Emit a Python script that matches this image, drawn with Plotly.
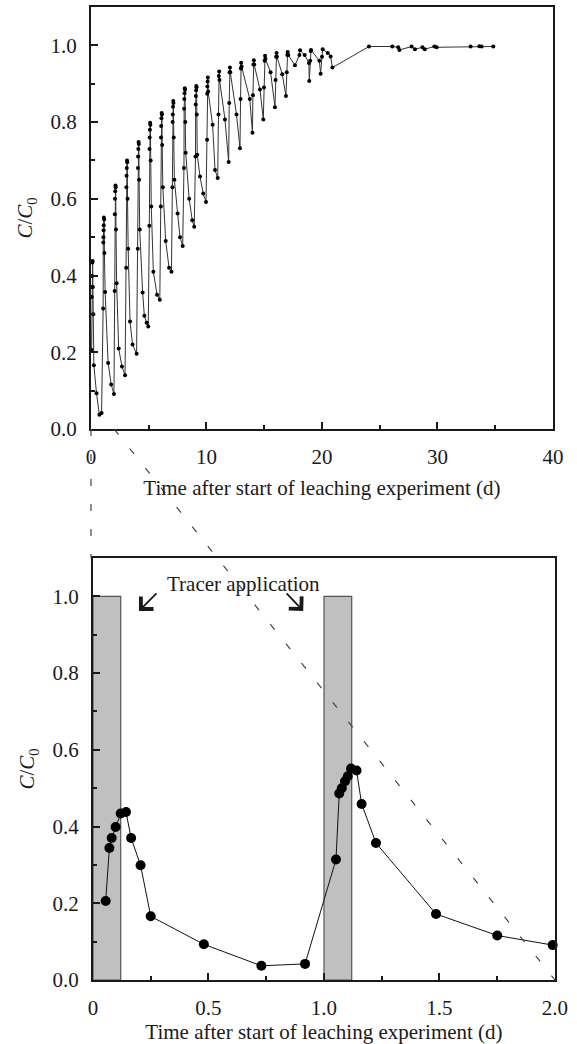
import plotly.graph_objects as go

FONT = "Liberation Serif, Times New Roman, serif"
INK = "#1a1a1a"

# ---- data: one list per daily tracer cycle (time in d, C/C0) ----
cycle_t = [
    [0.055, 0.071, 0.081, 0.098, 0.12, 0.143, 0.165, 0.206, 0.25, 0.48, 0.729, 0.918],
    [1.052, 1.066, 1.077, 1.091, 1.103, 1.117, 1.141, 1.163, 1.225, 1.485, 1.75, 1.99],
    [2.05, 2.065, 2.08, 2.10, 2.12, 2.14, 2.165, 2.22, 2.40, 2.68, 2.95],
    [3.05, 3.065, 3.08, 3.10, 3.12, 3.14, 3.165, 3.22, 3.38, 3.60, 3.95],
    [4.05, 4.065, 4.08, 4.10, 4.12, 4.14, 4.165, 4.22, 4.47, 4.62, 4.82, 4.96],
    [5.05, 5.065, 5.08, 5.10, 5.12, 5.14, 5.165, 5.22, 5.40, 5.72, 5.96],
    [6.05, 6.065, 6.08, 6.10, 6.12, 6.14, 6.165, 6.22, 6.47, 6.76, 6.97],
    [7.05, 7.065, 7.08, 7.10, 7.12, 7.14, 7.165, 7.22, 7.50, 7.71, 7.94],
    [8.05, 8.065, 8.08, 8.10, 8.12, 8.14, 8.165, 8.20, 8.50, 8.77, 8.94],
    [9.05, 9.065, 9.08, 9.10, 9.12, 9.14, 9.165, 9.20, 9.44, 9.72, 9.96],
    [10.05, 10.065, 10.08, 10.10, 10.12, 10.14, 10.53, 10.74, 10.97],
    [11.04, 11.07, 11.10, 11.13, 11.60, 11.92],
    [11.97, 12.00, 12.03, 12.06, 12.60, 12.90],
    [12.95, 12.98, 13.00, 13.04, 13.75, 13.98],
    [14.02, 14.06, 14.10, 14.13, 14.63, 14.92],
    [14.98, 15.03, 15.07, 15.10, 15.55, 15.93],
    [15.98, 16.03, 16.07, 16.10, 16.56, 16.88],
    [16.95, 17.00, 17.03, 17.08, 17.66],
    [18.05, 18.10, 18.50, 18.87, 18.90],
    [18.98, 19.02, 19.05, 19.77, 19.88],
    [20.00, 20.06, 20.50, 20.75, 20.90],
]
cycle_c = [
    [0.206, 0.344, 0.370, 0.399, 0.434, 0.438, 0.370, 0.299, 0.166, 0.093, 0.037, 0.042],
    [0.314, 0.486, 0.500, 0.518, 0.531, 0.551, 0.546, 0.459, 0.357, 0.172, 0.116, 0.091],
    [0.36, 0.56, 0.60, 0.62, 0.635, 0.63, 0.52, 0.38, 0.21, 0.163, 0.14],
    [0.42, 0.63, 0.66, 0.68, 0.70, 0.695, 0.60, 0.47, 0.28, 0.22, 0.196],
    [0.47, 0.68, 0.71, 0.73, 0.748, 0.743, 0.65, 0.52, 0.356, 0.295, 0.277, 0.267],
    [0.53, 0.73, 0.76, 0.78, 0.798, 0.793, 0.70, 0.58, 0.41, 0.35, 0.337],
    [0.58, 0.76, 0.79, 0.81, 0.824, 0.82, 0.74, 0.63, 0.49, 0.42, 0.41],
    [0.63, 0.80, 0.82, 0.84, 0.855, 0.85, 0.76, 0.65, 0.562, 0.50, 0.477],
    [0.68, 0.835, 0.86, 0.875, 0.888, 0.884, 0.80, 0.72, 0.60, 0.544, 0.527],
    [0.71, 0.846, 0.868, 0.883, 0.894, 0.891, 0.82, 0.715, 0.658, 0.614, 0.592],
    [0.754, 0.874, 0.893, 0.906, 0.916, 0.88, 0.793, 0.675, 0.654],
    [0.82, 0.92, 0.932, 0.91, 0.807, 0.696],
    [0.85, 0.93, 0.942, 0.93, 0.82, 0.732],
    [0.86, 0.94, 0.955, 0.945, 0.86, 0.772],
    [0.87, 0.95, 0.961, 0.95, 0.885, 0.807],
    [0.89, 0.96, 0.973, 0.965, 0.93, 0.839],
    [0.91, 0.97, 0.98, 0.97, 0.925, 0.868],
    [0.93, 0.975, 0.983, 0.975, 0.948],
    [0.975, 0.987, 0.975, 0.954, 0.907],
    [0.96, 0.985, 0.988, 0.96, 0.926],
    [0.97, 0.99, 0.98, 0.971, 0.942],
]
tail_t = [24.07, 26.09, 26.6, 26.7, 27.76, 28.05, 28.7, 28.9, 29.73, 29.93, 32.87, 33.62, 33.82, 34.83]
tail_c = [0.997, 0.997, 0.995, 0.988, 0.997, 0.99, 0.995, 0.99, 0.997, 0.995, 0.997, 0.998, 0.997, 0.997]

# tracer application periods (bottom panel)
app_start = [0.0, 1.0]
app_end = [0.12, 1.12]
app_conc = [1.0, 1.0]

zoom_end = 2.0

t_all = [t for cyc in cycle_t for t in cyc] + tail_t
c_all = [c for cyc in cycle_c for c in cyc] + tail_c
t_zoom = [t for t in t_all if t <= zoom_end]
c_zoom = [c for t, c in zip(t_all, c_all) if t <= zoom_end]

# ---- layout geometry ----
W, H = 577, 1044
ML, MR, MT, MB = 90, 20, 7, 64
top_xdom = [0.0021, 0.9914]
bot_xdom = [0.0064, 0.9957]
top_ydom = [0.5663, 1.0]
bot_ydom = [0.0, 0.4337]
top_xrng = [0, 40]
bot_xrng = [0, 2.0]
yrng = [0, 1.1]


def px(v, rng, dom):
    return dom[0] + (v - rng[0]) / (rng[1] - rng[0]) * (dom[1] - dom[0])


fig = go.Figure()
fig.add_trace(go.Scatter(
    x=t_all, y=c_all, mode="lines+markers", xaxis="x", yaxis="y",
    line=dict(color="#333333", width=1), marker=dict(size=4, color="black"),
    showlegend=False))
fig.add_trace(go.Scatter(
    x=t_zoom, y=c_zoom, mode="lines+markers", xaxis="x2", yaxis="y2",
    line=dict(color="#111111", width=1), marker=dict(size=10, color="black"),
    showlegend=False, cliponaxis=False))

shapes = []
for a, b, c in zip(app_start, app_end, app_conc):
    shapes.append(dict(type="rect", xref="x2", yref="y2", x0=a, x1=b, y0=0, y1=c,
                       fillcolor="#c0c0c0", line=dict(color="#555555", width=1.2),
                       layer="below"))
dash = dict(color="#444444", width=1.2, dash="7px,18px")
x0p = px(0, top_xrng, top_xdom)
shapes.append(dict(type="line", xref="paper", yref="paper",
                   x0=x0p, x1=x0p, y0=top_ydom[0], y1=bot_ydom[1], line=dash))
shapes.append(dict(type="line", xref="paper", yref="paper",
                   x0=px(zoom_end, top_xrng, top_xdom), y0=top_ydom[0],
                   x1=px(zoom_end, bot_xrng, bot_xdom), y1=bot_ydom[0], line=dash))

axis_common = dict(
    showline=True, linecolor=INK, linewidth=2, mirror=True,
    ticks="inside", ticklen=7, tickwidth=1.5, tickcolor=INK,
    showgrid=False, zeroline=False, automargin=False,
    tickfont=dict(family=FONT, size=21, color=INK),
    ticklabelstandoff=8,
)
xtitle = dict(text="Time after start of leaching experiment (d)",
              font=dict(family=FONT, size=21, color=INK), standoff=12)
ytitle = dict(text="<i>C</i>/<i>C</i><sub>0</sub>",
              font=dict(family=FONT, size=21, color=INK), standoff=12)

fig.update_layout(
    width=W, height=H, margin=dict(l=ML, r=MR, t=MT, b=MB),
    paper_bgcolor="white", plot_bgcolor="white",
    shapes=shapes,
    xaxis=dict(domain=top_xdom, range=top_xrng, anchor="y",
               tickvals=[0, 10, 20, 30, 40], ticktext=["0", "10", "20", "30", "40"],
               minor=dict(ticks="inside", ticklen=4, tickwidth=1.5, tickcolor=INK, dtick=5, tick0=0),
               title=xtitle, **axis_common),
    yaxis=dict(domain=top_ydom, range=yrng, anchor="x",
               tickvals=[0, 0.2, 0.4, 0.6, 0.8, 1.0], tickformat=".1f",
               minor=dict(ticks="inside", ticklen=4, tickwidth=1.5, tickcolor=INK, dtick=0.1, tick0=0),
               title=ytitle, **axis_common),
    xaxis2=dict(domain=bot_xdom, range=bot_xrng, anchor="y2",
                tickvals=[0, 0.5, 1.0, 1.5, 2.0], ticktext=["0", "0.5", "1.0", "1.5", "2.0"],
                minor=dict(ticks="inside", ticklen=4, tickwidth=1.5, tickcolor=INK, dtick=0.25, tick0=0),
                title=xtitle, **axis_common),
    yaxis2=dict(domain=bot_ydom, range=yrng, anchor="x2",
                tickvals=[0, 0.2, 0.4, 0.6, 0.8, 1.0], tickformat=".1f",
                minor=dict(ticks="inside", ticklen=4, tickwidth=1.5, tickcolor=INK, dtick=0.1, tick0=0),
                title=ytitle, **axis_common),
    annotations=[
        dict(text="Tracer application", xref="x2", yref="y2", x=0.651, y=1.033,
             showarrow=False, font=dict(family=FONT, size=21, color=INK)),
        dict(text="", xref="x2", yref="y2", x=0.199, y=0.962, ax=19, ay=-19,
             showarrow=True, arrowhead=4, arrowsize=1.9, arrowwidth=1.8, arrowcolor=INK),
        dict(text="", xref="x2", yref="y2", x=0.910, y=0.962, ax=-18, ay=-19,
             showarrow=True, arrowhead=4, arrowsize=1.9, arrowwidth=1.8, arrowcolor=INK),
    ],
)

fig.write_html("out.html")
